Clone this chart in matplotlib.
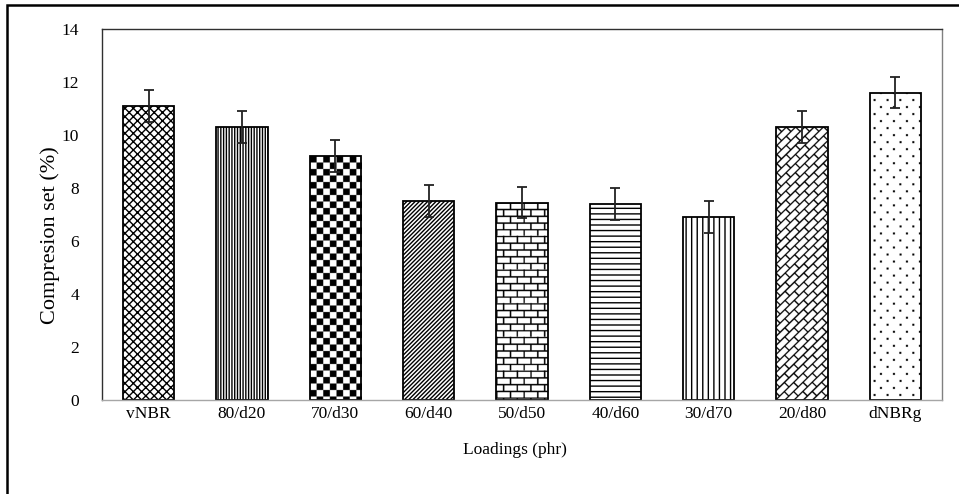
import matplotlib
matplotlib.use("Agg")
import matplotlib.pyplot as plt
import numpy as np
from matplotlib.patches import Rectangle

plt.rcParams['font.family'] = ['Liberation Serif', 'DejaVu Serif']
plt.rcParams['hatch.linewidth'] = 1.0

labels = ["vNBR", "80/d20", "70/d30", "60/d40", "50/d50", "40/d60", "30/d70", "20/d80", "dNBRg"]
values = [11.1, 10.3, 9.2, 7.5, 7.45, 7.4, 6.9, 10.3, 11.6]
errors = [0.6, 0.6, 0.6, 0.6, 0.6, 0.6, 0.6, 0.6, 0.6]
# hatch string, or name of a drawn texture
patterns = ["xxxx", "||||||", "checker", "////////", "brick", "---", "|||", "diagbrick", "dots"]

SS = 4  # supersampling for the drawn textures


def texture(kind, w, h):
    yy, xx = np.mgrid[0:h * SS, 0:w * SS].astype(float) / SS
    if kind == "checker":
        s = 6.5
        return (np.floor(xx / s) + np.floor(yy / s)) % 2
    if kind == "brick":
        bh, bl = 6.7, 13.4
        row = np.floor(yy / bh)
        mortar = (yy % bh < 1.4) | (((xx + row * bl / 2) % bl) < 1.4)
        return np.where(mortar, 0.0, 1.0)
    if kind == "diagbrick":
        u = (xx - yy) / np.sqrt(2)
        v = (xx + yy) / np.sqrt(2)
        bh, bl = 6.4, 13.0
        row = np.floor(v / bh)
        mortar = (v % bh < 1.3) | (((u + row * bl / 2) % bl) < 1.3)
        return np.where(mortar, 0.0, 1.0)
    if kind == "dots":
        rh, cw = 7.0, 12.7
        row = np.floor(yy / rh)
        dot = ((yy % rh) < 2) & (((xx + 3 + row * cw / 2) % cw) < 2)
        return np.where(dot, 0.0, 1.0)
    return np.ones((h * SS, w * SS))


fig = plt.figure(figsize=(9.59, 4.94), dpi=100)
fig.patches.append(Rectangle((7 / 959, -0.1), 1.2, (494 - 5) / 494 + 0.1, transform=fig.transFigure,
                             fill=False, edgecolor="black", linewidth=1.8))
ax = fig.add_axes([102 / 959, (494 - 400) / 494, (942 - 102) / 959, (400 - 29) / 494])

x = np.arange(len(labels))
width = 0.55
ax.set_xlim(-0.5, len(labels) - 0.5)
ax.set_ylim(0, 14)

for i, (v, p) in enumerate(zip(values, patterns)):
    if p in ("checker", "brick", "diagbrick", "dots"):
        bar = ax.bar(x[i], v, width, facecolor="none", edgecolor="black", linewidth=1.3, zorder=2)[0]
        (px0, py0), (px1, py1) = ax.transData.transform([(x[i] - width / 2, 0), (x[i] + width / 2, v)])
        w, h = int(round(px1 - px0)), int(round(py1 - py0))
        img = ax.imshow(texture(p, w, h), cmap="gray", vmin=0, vmax=1, interpolation="antialiased",
                        extent=(x[i] - width / 2, x[i] + width / 2, 0, v), aspect="auto", zorder=1.5)
        img.set_clip_path(bar)
    else:
        ax.bar(x[i], v, width, facecolor="white", edgecolor="black", hatch=p, linewidth=1.3, zorder=2)

ax.errorbar(x, values, yerr=errors, fmt="none", ecolor="#222222", elinewidth=1.3,
            capsize=3.3, capthick=1.3, zorder=3)

ax.set_xlim(-0.5, len(labels) - 0.5)
ax.set_ylim(0, 14)
ax.set_yticks(np.arange(0, 15, 2))
ax.set_xticks(x)
ax.set_xticklabels(labels)
ax.tick_params(axis="both", length=0, labelsize=12.5)
ax.tick_params(axis="y", pad=16.5)
ax.tick_params(axis="x", pad=4)
ax.set_ylabel("Compresion set (%)", fontsize=16, va="center")
ax.yaxis.set_label_coords(-0.062, 0.445)
ax.set_xlabel("Loadings (phr)", fontsize=12.5, va="center")
ax.xaxis.set_label_coords(0.4917, -0.135)

ax.spines["left"].set_color("#303030")
ax.spines["top"].set_color("#303030")
ax.spines["right"].set_color("#808080")
ax.spines["bottom"].set_color("#a6a6a6")
for s in ax.spines.values():
    s.set_linewidth(1.0)

fig.savefig("out.png", dpi=100)
